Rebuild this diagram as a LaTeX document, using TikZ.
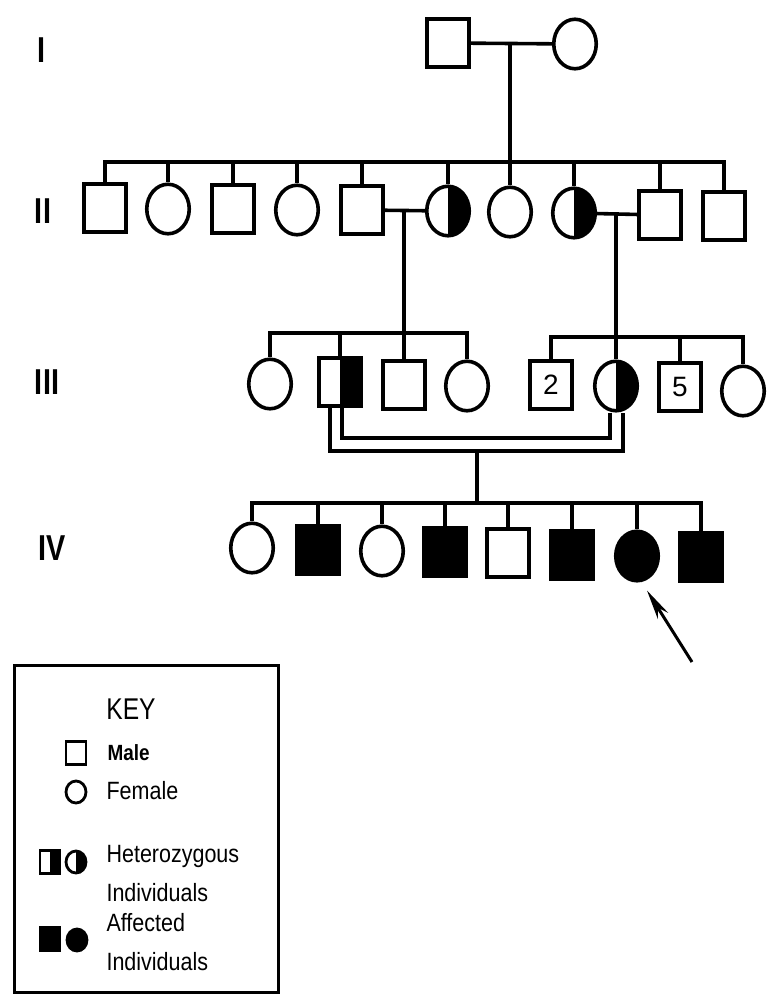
\documentclass[tikz,border=0pt]{standalone}
\usepackage{fontspec}
\setmainfont{Liberation Sans}
\usetikzlibrary{shapes.geometric,arrows.meta,calc}
\begin{document}
\begin{tikzpicture}[x=1pt,y=-1pt,line width=3.6pt,
  male/.style={draw,rectangle,minimum width=42.5pt,minimum height=48.5pt,inner sep=0pt},
  female/.style={draw,ellipse,minimum width=42.5pt,minimum height=49.5pt,inner sep=0pt},
  kmale/.style={draw,rectangle,minimum width=20pt,minimum height=23pt,inner sep=0pt,line width=2.8pt},
  kfemale/.style={draw,ellipse,minimum width=20pt,minimum height=22pt,inner sep=0pt,line width=2.8pt},
  het/.style={path picture={\fill[black] (path picture bounding box.north) rectangle (path picture bounding box.south east);}},
  aff/.style={fill=black},
  gen/.style={font=\fontsize{36}{38}\bfseries\selectfont,inner sep=0pt,xscale=0.8},
  keytxt/.style={font=\fontsize{25}{27}\selectfont,inner sep=0pt,anchor=west,xscale=0.86},
  num/.style={font=\fontsize{28}{30}\selectfont}
]
\useasboundingbox (0,0) rectangle (775,1007);

% generation labels
\node[gen] (gI) at (42,50) {I};
\node[gen] (gII) at (43,211) {II};
\node[gen] (gIII) at (47,382) {III};
\node[gen] (gIV) at (52,548) {IV};

% generation I
\node[male] (I1) at (448,43) {};
\node[female] (I2) at (575,44) {};
\draw (I1) -- (I2);
\coordinate (mI) at (510,43);
\coordinate (sII) at (510,162);
\draw (mI) -- (sII);

% generation II
\node[male] (II1) at (105,208) {};
\node[female] (II2) at (168,209) {};
\node[male] (II3) at (233,209) {};
\node[female] (II4) at (297,210) {};
\node[male] (II5) at (362,210) {};
\node[female,het] (II6) at (448,211) {};
\node[female] (II7) at (510,212) {};
\node[female,het] (II8) at (574,213) {};
\node[male] (II9) at (660,215) {};
\node[male] (II10) at (724,216) {};
\draw[line cap=rect] (II1.north |- sII) -- (II10.north |- sII);
\foreach \n in {II1,II2,II3,II4,II5,II6,II7,II8,II9,II10}
  \draw (\n.north) -- (\n.north |- sII);

% marriages in II
\draw (II5) -- (II6);
\draw (II8) -- (II9);
\coordinate (mL) at (404,210);
\coordinate (mR) at (616,213);
\coordinate (sIIIL) at (404,333);
\coordinate (sIIIR) at (616,337);
\draw (mL) -- (sIIIL);
\draw (mR) -- (sIIIR);

% generation III
\node[female] (III1) at (270,384) {};
\node[male,het] (III2) at (340,382) {};
\node[male] (III3) at (404,385) {};
\node[female] (III4) at (467,386) {};
\node[male,num] (III5) at (551,385) {2};
\node[female,het] (III6) at (616,386) {};
\node[male,num] (III7) at (680,387) {5};
\node[female] (III8) at (743,391) {};
\draw[line cap=rect] (III1.north |- sIIIL) -- (III4.north |- sIIIL);
\foreach \n in {III1,III2,III3,III4}
  \draw (\n.north) -- (\n.north |- sIIIL);
\draw[line cap=rect] (III5.north |- sIIIR) -- (III8.north |- sIIIR);
\foreach \n in {III5,III6,III7,III8}
  \draw (\n.north) -- (\n.north |- sIIIR);

% consanguineous marriage (double line)
\coordinate (cin) at (477,438);
\coordinate (cout) at (477,451);
\draw ([xshift=2pt]III2.south) |- (cin) -| ([xshift=-6pt]III6.south);
\draw ([xshift=-10pt]III2.south) |- (cout) -| ([xshift=7pt]III6.south);
\coordinate (sIV) at (477,503);
\draw (cout) -- (sIV);

% generation IV
\node[female] (IV1) at (252,548) {};
\node[male,aff] (IV2) at (318,550) {};
\node[female] (IV3) at (382,551) {};
\node[male,aff] (IV4) at (445,552) {};
\node[male] (IV5) at (508,553) {};
\node[male,aff] (IV6) at (572,555) {};
\node[female,aff] (IV7) at (637,556) {};
\node[male,aff] (IV8) at (701,557) {};
\draw[line cap=rect] (IV1.north |- sIV) -- (IV8.north |- sIV);
\foreach \n in {IV1,IV2,IV3,IV4,IV5,IV6,IV7,IV8}
  \draw (\n.north) -- (\n.north |- sIV);

% proband arrow
\coordinate (arrtail) at (692,662);
\draw[line width=3pt,-{Stealth[length=30pt,width=12pt]}] (arrtail) -- ($(IV7.south)+(10,8)$);

% key
\node[draw,line width=2.4pt,minimum width=264pt,minimum height=327pt,inner sep=0pt] (keybox) at (146.5,829) {};
\node[font=\fontsize{30}{32}\selectfont,inner sep=0pt,xscale=0.82] (keyt) at (131,709) {KEY};
\node[kmale] (kM) at (76,753) {};
\node[keytxt,font=\fontsize{22}{24}\bfseries\selectfont] (kMt) at (106,753) {Male};
\node[kfemale] (kF) at (76,792) {};
\node[keytxt] (kFt) at (105,791) {Female};
\node[kmale,het] (kHs) at (50,862) {};
\node[kfemale,het] (kHc) at (76,862) {};
\node[keytxt] (kH1) at (105,856) {Heterozygous};
\node[keytxt] (kH2) at (105,893) {Individuals};
\node[kmale,aff] (kAs) at (50,939) {};
\node[kfemale,aff] (kAc) at (77,940) {};
\node[keytxt] (kA1) at (105,923) {Affected};
\node[keytxt] (kA2) at (105,962) {Individuals};
\end{tikzpicture}
\end{document}
